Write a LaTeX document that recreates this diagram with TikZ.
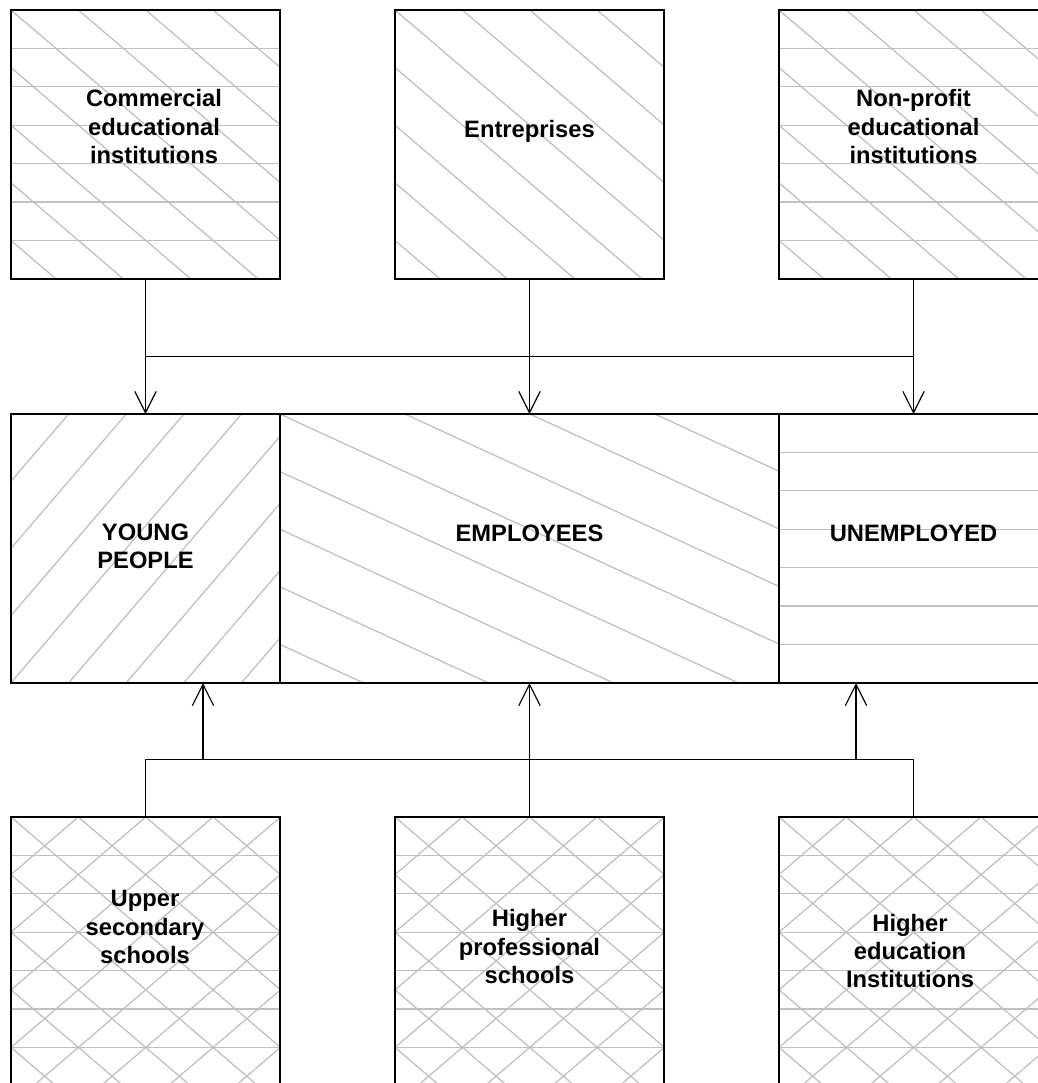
\documentclass[tikz,border=0pt]{standalone}
\usepackage{fontspec}
\setmainfont{Liberation Sans}
\usetikzlibrary{arrows.meta,calc}
\definecolor{hatchgray}{HTML}{C0C0C0}
\newcommand\hatchlines[2]{%
  \foreach \k in {-10,...,10}{%
    \draw[hatch] ($(path picture bounding box.north west)+(-20,{\k*#2-20*(#1)})$) -- ++(620,{620*(#1)});
  }}
\newcommand\ml[1]{\begin{tabular}[t]{@{}c@{}}#1\end{tabular}}
\tikzset{
  hatch/.style={draw=hatchgray, line width=0.95pt},
  box/.style={draw=black, line width=1.15pt, rectangle, inner sep=0pt, outer sep=0pt,
    minimum width=201.75pt, minimum height=201.75pt},
  widebox/.style={box, minimum width=374.25pt},
  diagH/.style={path picture={\hatchlines{0.855}{57.6}\hatchlines{0}{38.4}}},
  diagonly/.style={path picture={\hatchlines{0.855}{57.6}}},
  rising/.style={path picture={\hatchlines{-1.166}{67.2}}},
  shallow/.style={path picture={\hatchlines{0.461}{57.6}}},
  horiz/.style={path picture={\hatchlines{0}{38.4}}},
  cross/.style={path picture={\hatchlines{0.855}{57.6}\hatchlines{-0.855}{57.6}\hatchlines{0}{38.4}}},
  lbl/.style={anchor=base, inner sep=0pt, font=\bfseries\fontsize{17.8}{21.3}\selectfont},
  conn/.style={draw=black, line width=0.9pt},
  arr/.style={-{Straight Barb[length=16pt,width=16pt]}},
}
\begin{document}
\begin{tikzpicture}[x=0.75pt, y=-0.75pt]
\path[use as bounding box, fill=white] (0,0) rectangle (1038,1083);
% top row
\node[box, diagH]    (comm) at (145.5,144.5) {};
\node[box, diagonly] (ent)  at (529.5,144.5) {};
\node[box, diagH]    (nonp) at (913.5,144.5) {};
% middle row
\node[box, rising]     (young) at (145.5,548.5) {};
\node[widebox, shallow] (emp)  at (529.5,548.5) {};
\node[box, horiz]      (unemp) at (913.5,548.5) {};
% bottom row
\node[box, cross] (upper) at (145.5,951.5) {};
\node[box, cross] (hps)   at (529.5,951.5) {};
\node[box, cross] (hei)   at (913.5,951.5) {};
% labels
\node[lbl] (commT)  at (154,106.7)   {\ml{Commercial\\educational\\institutions}};
\node[lbl] (entT)   at (529.5,137.7) {\ml{Entreprises}};
\node[lbl] (nonpT)  at (913.5,106.7) {\ml{Non-profit\\educational\\institutions}};
\node[lbl] (youngT) at (145.5,540)   {\ml{YOUNG\\PEOPLE}};
\node[lbl] (empT)   at (529.5,541)   {\ml{EMPLOYEES}};
\node[lbl] (unempT) at (913.5,541)   {\ml{UNEMPLOYED}};
\node[lbl] (upperT) at (145,906.7)   {\ml{Upper\\secondary\\schools}};
\node[lbl] (hpsT)   at (529.5,926.7) {\ml{Higher\\professional\\schools}};
\node[lbl] (heiT)   at (910,931)     {\ml{Higher\\education\\Institutions}};
% connectors
\coordinate (busT) at (0,356.7);
\coordinate (busB) at (0,759.5);
\coordinate (upYP) at (203,759.5);
\coordinate (upUN) at (856,759.5);
\draw[conn,arr] (comm.south) -- (young.north);
\draw[conn,arr] (ent.south) -- (emp.north);
\draw[conn,arr] (nonp.south) -- (unemp.north);
\draw[conn] (comm.south |- busT) -- (nonp.south |- busT);
\draw[conn] (upper.north) -- (upper.north |- busB) -- (hei.north |- busB) -- (hei.north);
\draw[conn,arr] (hps.north) -- (emp.south);
\draw[conn,arr] (upYP) -- (upYP |- young.south);
\draw[conn,arr] (upUN) -- (upUN |- unemp.south);
\end{tikzpicture}
\end{document}
